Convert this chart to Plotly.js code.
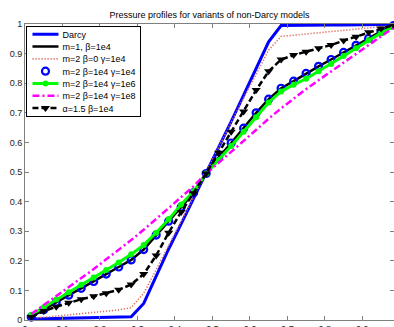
<!DOCTYPE html>
<html>
<head>
<meta charset="utf-8">
<script src="https://cdn.plot.ly/plotly-3.0.1.min.js"></script>
<style>html,body{margin:0;padding:0;background:#fff;}#chart{width:394px;height:327px;}</style>
</head>
<body>
<div id="chart"></div>
<script>
// Grid positions (cell centres)
var xPos = [0.0167,0.05,0.0833,0.1167,0.15,0.1833,0.2167,0.25,0.2833,0.3167,0.35,0.3833,0.4167,0.45,0.4833,
            0.5167,0.55,0.5833,0.6167,0.65,0.6833,0.7167,0.75,0.7833,0.8167,0.85,0.8833,0.9167,0.95,0.9833];

var darcy    = [0.003,0.004,0.005,0.006,0.007,0.008,0.009,0.010,0.011,0.056,0.150,0.240,0.325,0.410,0.500,
                0.585,0.670,0.760,0.850,0.940,0.995,0.996,0.996,0.997,0.997,0.997,0.998,0.998,0.998,0.998];
var m1       = [0.010,0.035,0.060,0.084,0.107,0.130,0.155,0.179,0.203,0.238,0.287,0.334,0.381,0.430,0.495,
                0.550,0.598,0.648,0.700,0.746,0.783,0.807,0.833,0.857,0.880,0.904,0.928,0.951,0.975,0.995];
var m2b0     = [0.005,0.009,0.013,0.018,0.022,0.026,0.030,0.034,0.042,0.090,0.170,0.250,0.335,0.415,0.500,
                0.585,0.665,0.750,0.830,0.912,0.958,0.962,0.966,0.971,0.975,0.979,0.983,0.987,0.991,0.995];
var m2g4     = [0.010,0.035,0.060,0.084,0.107,0.130,0.155,0.179,0.203,0.238,0.287,0.334,0.381,0.430,0.495,
                0.550,0.598,0.648,0.700,0.746,0.783,0.807,0.833,0.857,0.880,0.904,0.928,0.951,0.975,0.995];
var m2g6     = [0.018,0.043,0.069,0.094,0.119,0.144,0.169,0.194,0.222,0.253,0.295,0.340,0.390,0.435,0.495,
                0.540,0.588,0.636,0.685,0.735,0.772,0.795,0.815,0.840,0.865,0.892,0.918,0.945,0.970,0.990];
var m2g8     = [0.020,0.050,0.080,0.110,0.140,0.172,0.205,0.237,0.270,0.305,0.340,0.378,0.415,0.452,0.495,
                0.530,0.568,0.605,0.643,0.680,0.715,0.748,0.780,0.810,0.840,0.870,0.900,0.930,0.958,0.988];
var alpha15  = [0.010,0.030,0.045,0.058,0.070,0.080,0.090,0.102,0.120,0.155,0.218,0.295,0.365,0.428,0.495,
                0.565,0.636,0.704,0.777,0.840,0.880,0.895,0.906,0.918,0.929,0.944,0.957,0.972,0.985,0.997];

var names = ['Darcy','m=1, \u03b2=1e4','m=2 \u03b2=0 \u03b3=1e4','m=2 \u03b2=1e4 \u03b3=1e4',
             'm=2 \u03b2=1e4 \u03b3=1e6','m=2 \u03b2=1e4 \u03b3=1e8','\u03b1=1.5 \u03b2=1e4'];
var xTicks = [0,0.1,0.2,0.3,0.4,0.5,0.6,0.7,0.8,0.9];
var xTickText = ['0','0.1','0.2','0.3','0.4','0.5','0.6','0.7','0.8','0.9'];
var yTicks = [0,0.1,0.2,0.3,0.4,0.5,0.6,0.7,0.8,0.9,1];
var yTickText = ['0','0.1','0.2','0.3','0.4','0.5','0.6','0.7','0.8','0.9','1'];

var FONT = 'Liberation Sans, Arial, sans-serif';

var traces = [
  {x:xPos, y:darcy, name:names[0], mode:'lines', line:{color:'#0000ff', width:3}},
  {x:xPos, y:m1, name:names[1], mode:'lines', line:{color:'#000000', width:2.5}},
  {x:xPos, y:m2b0, name:names[2], mode:'lines', line:{color:'#de6a5e', width:1.6, dash:'1.2px,1.8px'}},
  {x:xPos, y:m2g4, name:names[3], mode:'markers', marker:{symbol:'circle-open', color:'#0000ff', size:7, line:{width:2.2, color:'#0000ff'}}},
  {x:xPos, y:m2g6, name:names[4], mode:'lines+markers', line:{color:'#00ff00', width:3}, marker:{symbol:'circle', color:'#00ff00', size:6}},
  {x:xPos, y:m2g8, name:names[5], mode:'lines', line:{color:'#ff00ff', width:2.5, dash:'7px,3px,2px,3px'}},
  {x:xPos, y:alpha15, name:names[6], mode:'lines+markers', line:{color:'#000000', width:2.5, dash:'6px,3px'}, marker:{symbol:'triangle-down', color:'#000000', size:8}}
];
traces.forEach(function(t){ t.cliponaxis = false; });

var axisCommon = {
  showgrid:false, zeroline:false, showline:true, linecolor:'#808080', linewidth:1,
  ticks:'inside', ticklen:4, tickcolor:'#808080', mirror:'ticks',
  tickfont:{family:FONT, size:9, color:'#222'}
};

var layout = {
  width:394, height:327,
  margin:{l:25, r:0, t:24, b:7},
  paper_bgcolor:'#fff', plot_bgcolor:'#fff',
  title:{text:'Pressure profiles for variants of non-Darcy models', font:{family:FONT, size:9, color:'#000'},
         x:0.5, xref:'paper', y:0.965, yref:'container'},
  xaxis:Object.assign({}, axisCommon, {range:[0,0.9845], tickvals:xTicks, ticktext:xTickText}),
  yaxis:Object.assign({}, axisCommon, {range:[0,1], tickvals:yTicks, ticktext:yTickText}),
  showlegend:true,
  legend:{x:0.004, y:0.994, xanchor:'left', yanchor:'top', bgcolor:'#fff', bordercolor:'#000', borderwidth:1,
          font:{family:FONT, size:9, color:'#000'}, tracegroupgap:0}
};

Plotly.newPlot('chart', traces, layout, {displayModeBar:false, staticPlot:true}).then(function(gd){
  // compact the legend to match the reference spacing
  var leg = gd.querySelector('.legend');
  if(!leg) return;
  var items = leg.querySelectorAll('.traces');
  var step = 12.3, first = 8.5, shift = 5;
  items.forEach(function(it, i){
    var tr = it.getAttribute('transform') || '';
    var m = tr.match(/translate\(\s*([-\d.]+)[ ,]+([-\d.]+)\s*\)/);
    var x = m ? parseFloat(m[1]) : 0;
    it.setAttribute('transform', 'translate(' + x + ',' + (first + i*step) + ')');
    var txt = it.querySelector('text.legendtext');
    if(txt) txt.setAttribute('x', parseFloat(txt.getAttribute('x')) - shift);
    it.querySelectorAll('.legendlines path').forEach(function(p){ p.setAttribute('d', 'M5,0h26'); });
    it.querySelectorAll('.legendpoints path.scatterpts').forEach(function(p){
      p.setAttribute('transform', 'translate(18,0)');
    });
  });
  var h = first + (items.length-1)*step + 7.5;
  var bg = leg.querySelector('rect.bg');
  if(bg){
    bg.setAttribute('height', h);
    bg.setAttribute('width', parseFloat(bg.getAttribute('width')) - shift);
  }
});
</script>
</body>
</html>
